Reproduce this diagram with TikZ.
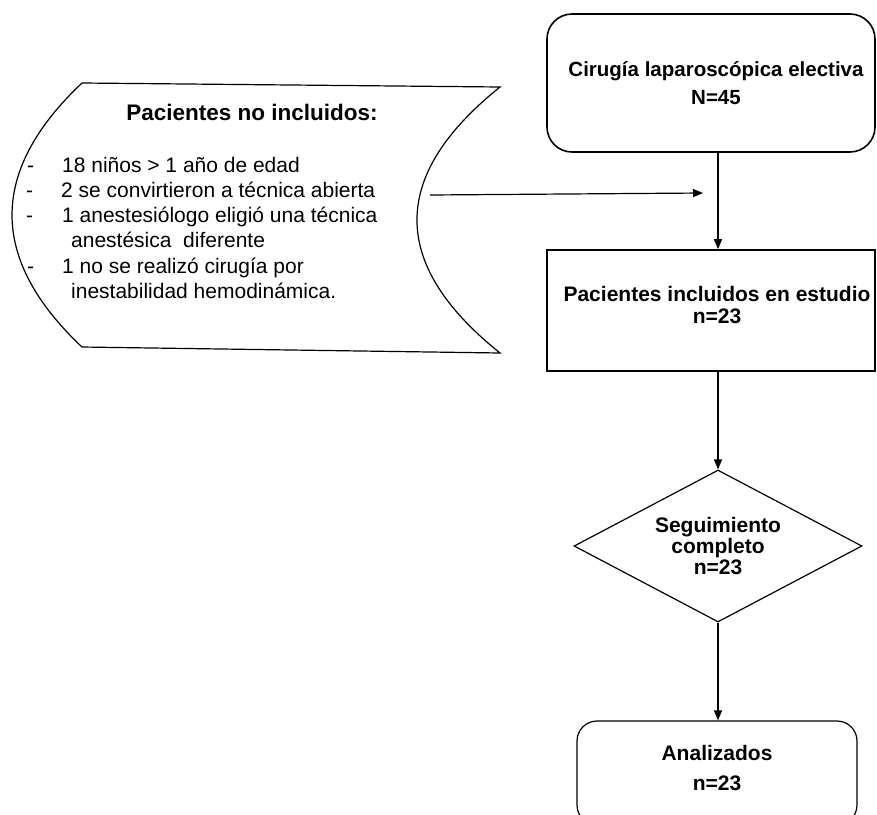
\documentclass[tikz,border=0pt]{standalone}
\usepackage{fontspec}
\setmainfont{Liberation Sans}
\usetikzlibrary{arrows.meta,shapes.geometric}
\begin{document}
\begin{tikzpicture}[x=1pt,y=-1pt,
  conn/.style={line width=1.2pt,-{Triangle[length=10pt,width=8pt]}},
  thickbox/.style={draw,line width=1.6pt,align=center,inner sep=0pt},
  thinbox/.style={draw,line width=1.2pt,align=center,inner sep=0pt},
  boxlabel/.style={align=center,inner sep=0pt},
  itemtxt/.style={font=\fontsize{21}{25}\selectfont,anchor=base west,inner sep=0pt}]
\useasboundingbox (0,0) rectangle (877,814);
\clip (0,0) rectangle (877,814);

% left stored-data shape
\draw[line width=1.2pt] (82,83) -- (500,87)
  .. controls (389.3,175.7) and (389.3,264.3) .. (500,353)
  -- (82,347)
  .. controls (-11.3,259) and (-11.3,171) .. cycle;

\node[font=\fontsize{22.5}{27}\selectfont\bfseries,anchor=base,inner sep=0pt] (title) at (252,120) {Pacientes no incluidos:};

\node[itemtxt] (d1) at (27,172) {-};
\node[itemtxt] (t1) at (62,172) {18 niños > 1 año de edad};
\node[itemtxt] (d2) at (26,197) {-};
\node[itemtxt] (t2) at (61,197) {2 se convirtieron a técnica abierta};
\node[itemtxt] (d3) at (26,222) {-};
\node[itemtxt] (t3) at (62,222) {1 anestesiólogo eligió una técnica};
\node[itemtxt] (t3b) at (71,247) {anestésica\ \ diferente};
\node[itemtxt] (d4) at (27,273) {-};
\node[itemtxt] (t4) at (62,273) {1 no se realizó cirugía por};
\node[itemtxt] (t4b) at (71,298) {inestabilidad hemodinámica.};

% right column
\node[thickbox,rounded corners=25pt,minimum width=328pt,minimum height=138pt] (top) at (711,83) {};
\node[boxlabel,font=\fontsize{20.5}{28}\selectfont\bfseries] (topt) at (716,83)
      {Cirugía laparoscópica electiva\\N=45};
\node[thickbox,minimum width=328pt,minimum height=121pt] (mid) at (711,310.5) {};
\node[boxlabel,font=\fontsize{21}{22}\selectfont\bfseries] (midt) at (717,305)
      {Pacientes incluidos en estudio\\n=23};
\node[thinbox,diamond,aspect=1.895,minimum width=288pt,minimum height=152pt,
      font=\fontsize{21}{21}\selectfont\bfseries] (dia) at (718,546)
      {Seguimiento\\completo\\n=23};
\node[thinbox,rounded corners=20pt,minimum width=280pt,minimum height=104pt] (ana) at (717,773) {};
\node[boxlabel,font=\fontsize{21}{30}\selectfont\bfseries] (anat) at (717,768)
      {Analizados\\n=23};

\draw[conn] (top.south -| dia.north) -- (mid.north -| dia.north);
\draw[conn] (mid.south -| dia.north) -- (dia.north);
\draw[conn] (dia.south) -- (ana.north -| dia.south);

\coordinate (exs) at (430,195);
\coordinate (exe) at (703,193);
\draw[conn] (exs) -- (exe);
\end{tikzpicture}
\end{document}
